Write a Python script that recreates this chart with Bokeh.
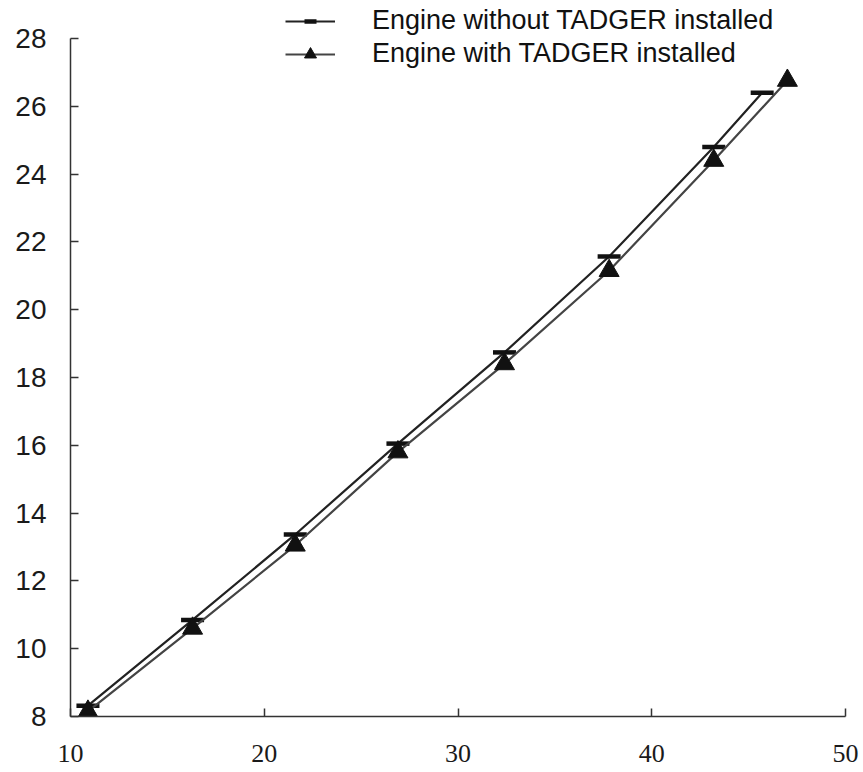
from bokeh.plotting import figure
from bokeh.models import Range1d, FixedTicker, Legend, LegendItem
from bokeh.embed import file_html
from bokeh.resources import INLINE

# data
x_without = [10.9, 16.3, 21.6, 26.9, 32.4, 37.8, 43.2, 45.7]
y_without = [8.32, 10.85, 13.37, 16.05, 18.74, 21.57, 24.8, 26.4]
x_with = [10.9, 16.3, 21.6, 26.9, 32.4, 37.8, 43.2, 47.0]
y_with = [8.15, 10.6, 13.05, 15.8, 18.4, 21.15, 24.4, 26.76]
x_ticks = [10, 20, 30, 40, 50]
y_ticks = [8, 10, 12, 14, 16, 18, 20, 22, 24, 26, 28]
labels = ["Engine without TADGER installed", "Engine with TADGER installed"]

# frame reaches the top edge; the y axis itself stops at 28 via bounds
p = figure(width=863, height=772, output_backend="svg", toolbar_location=None,
           x_range=Range1d(10, 50), y_range=Range1d(8, 28 + 38 / 33.9),
           min_border_left=70, min_border_right=18, min_border_top=0, min_border_bottom=56)
p.outline_line_color = None
p.xgrid.visible = False
p.ygrid.visible = False
p.background_fill_color = "white"

for ax, ticks in ((p.xaxis, x_ticks), (p.yaxis, y_ticks)):
    ax.ticker = FixedTicker(ticks=ticks)
    ax.major_tick_in = 8
    ax.major_tick_out = 0
    ax.minor_tick_line_color = None
    ax.axis_line_color = "#333333"
    ax.axis_line_width = 1.5
    ax.major_tick_line_color = "#333333"
    ax.major_tick_line_width = 1.5
    ax.major_label_text_color = "#1a1a1a"

p.xaxis.bounds = (10, 50)
p.yaxis.bounds = (8, 28)
p.xaxis.major_label_text_font = "Liberation Serif"
p.xaxis.major_label_text_font_size = "26px"
p.xaxis.major_label_standoff = 28
p.yaxis.major_label_text_font = "Liberation Sans"
p.yaxis.major_label_text_font_size = "28px"
p.yaxis.major_label_standoff = 24

l1 = p.line(x_without, y_without, line_color="#222222", line_width=2.2)
m1 = p.scatter(x_without, y_without, marker="dash", size=23, line_color="#111111", line_width=4.5)
l2 = p.line(x_with, y_with, line_color="#444444", line_width=2.2)
m2 = p.scatter(x_with, y_with, marker="triangle", size=20, fill_color="#111111", line_color="#111111")

legend = Legend(items=[LegendItem(label=labels[0], renderers=[l1, m1]),
                       LegendItem(label=labels[1], renderers=[l2, m2])],
                location=(215, 647), border_line_color=None, background_fill_alpha=0,
                padding=0, margin=0, spacing=2, glyph_width=50, glyph_height=30,
                label_height=30, label_standoff=37,
                label_text_font="Liberation Sans", label_text_font_size="27px",
                label_text_color="#111111")
p.add_layout(legend, "center")

open("out.html", "w").write(file_html(p, INLINE))
